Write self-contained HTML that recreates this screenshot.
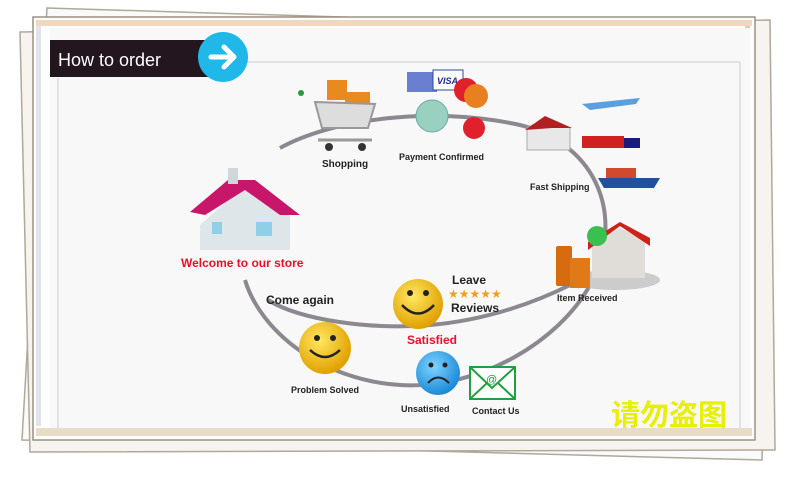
<!DOCTYPE html>
<html><head><meta charset="utf-8"><style>
body{margin:0;width:800px;height:472px;overflow:hidden;background:#fff;font-family:"Liberation Sans",sans-serif}
</style></head><body>
<svg width="800" height="472" viewBox="0 0 800 472" xmlns="http://www.w3.org/2000/svg" font-family="Liberation Sans, sans-serif">
<defs>
<radialGradient id="sm" cx="40%" cy="35%" r="65%"><stop offset="0" stop-color="#ffe860"/><stop offset="1" stop-color="#e0a000"/></radialGradient>
<radialGradient id="bl" cx="40%" cy="35%" r="65%"><stop offset="0" stop-color="#7fd4ff"/><stop offset="1" stop-color="#1a8ad8"/></radialGradient>
</defs>
<!-- back cards -->
<polygon points="47,8 770,30 762,460 22,440" fill="#fafafa" stroke="#b0a898" stroke-width="1.5"/>
<polygon points="20,32 770,20 775,450 30,452" fill="#f7f4f0" stroke="#b0a898" stroke-width="1.5"/>
<rect x="33" y="17" width="722" height="423" fill="#fdfdfd" stroke="#9a9080" stroke-width="1.5"/>
<rect x="36" y="20" width="716" height="6" fill="#f0d8c0"/>
<rect x="36" y="428" width="716" height="8" fill="#e8dcc8"/>
<rect x="36" y="26" width="5" height="400" fill="#e0e4ea"/>
<rect x="745" y="26" width="5" height="400" fill="#d8ccc0"/>
<!-- inner panel -->
<rect x="50" y="28" width="700" height="400" fill="#f8f8f8"/>
<line x1="58" y1="78" x2="58" y2="428" stroke="#ccc"/>
<line x1="245" y1="62" x2="740" y2="62" stroke="#ccc"/>
<line x1="740" y1="62" x2="740" y2="428" stroke="#ccc"/>
<!-- header -->
<rect x="50" y="40" width="160" height="37" fill="#23161f"/>
<text x="58" y="66" font-size="18" fill="#fff">How to order</text>
<circle cx="223" cy="57" r="25" fill="#1fb8e8"/>
<path d="M211 57 H233 M224 47 L234 57 L224 67" stroke="#fff" stroke-width="5" fill="none" stroke-linecap="round" stroke-linejoin="round"/>
<!-- orbits -->
<path d="M280 148 C330 120 430 105 520 125 C600 145 625 220 590 285 C560 340 480 390 400 385 C320 380 260 330 245 280" stroke="#8d8890" stroke-width="4" fill="none"/>
<path d="M268 300 C300 320 370 330 430 325 C490 320 540 300 570 285" stroke="#8d8890" stroke-width="4" fill="none"/>
<!-- house -->
<polygon points="200,225 200,250 290,250 290,215 245,185" fill="#dfe6ea"/>
<polygon points="190,212 228,180 255,180 300,215 280,215 245,190 205,215" fill="#c8166a"/>
<rect x="228" y="168" width="10" height="16" fill="#d0d6da"/>
<rect x="212" y="222" width="10" height="12" fill="#8fcfe8"/><rect x="256" y="222" width="16" height="14" fill="#8fcfe8"/>
<text x="181" y="267" font-size="12" font-weight="bold" fill="#e8102a">Welcome to our store</text>
<!-- cart -->
<rect x="327" y="80" width="20" height="20" fill="#e88a20"/><rect x="345" y="92" width="25" height="12" fill="#e88a20"/>
<polygon points="315,102 375,104 368,128 322,128" fill="#ddd" stroke="#999" stroke-width="2"/>
<circle cx="329" cy="147" r="4" fill="#333"/><circle cx="362" cy="147" r="4" fill="#333"/>
<line x1="318" y1="140" x2="372" y2="140" stroke="#999" stroke-width="3"/>
<circle cx="301" cy="93" r="3" fill="#2a9a3a"/>
<text x="322" y="167" font-size="10" font-weight="bold" fill="#222">Shopping</text>
<!-- payment -->
<rect x="407" y="72" width="30" height="20" fill="#6a7fd0"/>
<rect x="433" y="70" width="30" height="20" fill="#fff" stroke="#2a4aa0"/>
<text x="437" y="84" font-size="9" font-weight="bold" font-style="italic" fill="#1a2a90">VISA</text>
<circle cx="466" cy="90" r="12" fill="#e0202a"/><circle cx="476" cy="96" r="12" fill="#e88020"/>
<circle cx="474" cy="128" r="11" fill="#e0202a"/>
<circle cx="432" cy="116" r="16" fill="#9ad0c0" stroke="#6aa" />
<text x="399" y="160" font-size="9" font-weight="bold" fill="#222">Payment Confirmed</text>
<!-- shipping -->
<polygon points="527,128 545,118 570,128 570,150 527,150" fill="#e8e8e8" stroke="#aaa"/>
<polygon points="525,130 545,116 572,128 552,128" fill="#b02020"/>
<path d="M582 104 L640 98 L636 104 L590 110 Z" fill="#5aa0e0"/>
<rect x="582" y="136" width="42" height="12" fill="#d02020"/><rect x="624" y="138" width="16" height="10" fill="#1a1a80"/>
<polygon points="598,178 660,178 654,188 604,188" fill="#2050a0"/><rect x="606" y="168" width="30" height="10" fill="#d04a30"/>
<text x="530" y="190" font-size="9" font-weight="bold" fill="#222">Fast Shipping</text>
<!-- item received -->
<ellipse cx="615" cy="280" rx="45" ry="10" fill="#ccc"/>
<rect x="556" y="246" width="16" height="40" fill="#d86a10" rx="2"/><rect x="570" y="258" width="20" height="30" fill="#e07a18"/>
<polygon points="592,246 592,278 645,278 645,240 620,228" fill="#e0dcd8"/>
<polygon points="588,250 620,226 650,246 650,238 620,222 588,242" fill="#d0201a"/>
<circle cx="597" cy="236" r="10" fill="#3ac050"/>
<text x="557" y="301" font-size="9" font-weight="bold" fill="#222">Item Received</text>
<!-- satisfied -->
<circle cx="418" cy="304" r="25" fill="url(#sm)"/>
<circle cx="410" cy="293" r="3" fill="#222"/><circle cx="426" cy="293" r="3" fill="#222"/>
<path d="M402 305 Q418 322 434 305" stroke="#222" stroke-width="2.5" fill="none"/>
<text x="452" y="284" font-size="12" font-weight="bold" fill="#222">Leave</text>
<text x="448" y="298" font-size="12" fill="#f0a020">★★★★★</text>
<text x="451" y="312" font-size="12" font-weight="bold" fill="#222">Reviews</text>
<text x="407" y="344" font-size="12" font-weight="bold" fill="#e8102a">Satisfied</text>
<text x="266" y="304" font-size="12" font-weight="bold" fill="#222">Come again</text>
<!-- problem solved -->
<circle cx="325" cy="348" r="26" fill="url(#sm)"/>
<circle cx="317" cy="338" r="3" fill="#222"/><circle cx="333" cy="338" r="3" fill="#222"/>
<path d="M310 350 Q325 364 340 350" stroke="#222" stroke-width="2.5" fill="none"/>
<text x="291" y="393" font-size="9" font-weight="bold" fill="#222">Problem Solved</text>
<!-- unsatisfied -->
<circle cx="438" cy="373" r="22" fill="url(#bl)"/>
<circle cx="431" cy="365" r="2.5" fill="#222"/><circle cx="445" cy="365" r="2.5" fill="#222"/>
<path d="M428 383 Q438 372 449 383" stroke="#222" stroke-width="2" fill="none"/>
<text x="401" y="412" font-size="9" font-weight="bold" fill="#222">Unsatisfied</text>
<!-- contact -->
<rect x="470" y="367" width="45" height="32" fill="#fff" stroke="#20a040" stroke-width="2"/>
<path d="M470 367 L492 388 L515 367 M470 399 L487 383 M515 399 L498 383" stroke="#20a040" stroke-width="2" fill="none"/>
<text x="486" y="383" font-size="11" fill="#20a040">@</text>
<text x="472" y="414" font-size="9" font-weight="bold" fill="#222">Contact Us</text>
<!-- watermark -->
<text x="611" y="425" font-size="29" font-weight="bold" fill="#e6f000" font-family="Liberation Sans, Noto Sans CJK SC, sans-serif">请勿盗图</text>
</svg>
</body></html>
